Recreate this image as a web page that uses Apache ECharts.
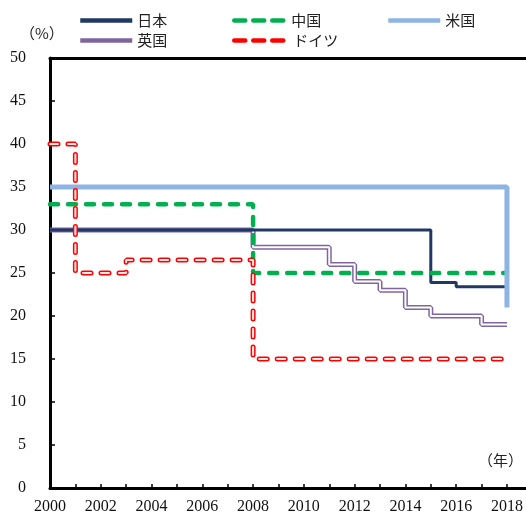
<!DOCTYPE html>
<html>
<head>
<meta charset="utf-8">
<script src="https://cdn.jsdelivr.net/npm/echarts@6/dist/echarts.min.js"></script>
<style>
  html, body { margin: 0; padding: 0; background: #fff; }
  #chart { width: 526px; height: 515px; }
</style>
</head>
<body>
<div id="chart"></div>
<script>
// Corporate tax rates by country (%), drawn as step lines.
// Each rate holds from its year until the next listed year.
const japanYears   = [2000, 2015, 2016, 2018];
const japanRates   = [30, 23.9, 23.4, 23.4];
const chinaYears   = [2000, 2008, 2018];
const chinaRates   = [33, 25, 25];
const usYears      = [2000, 2018];
const usRates      = [35, 21];
const ukYears      = [2000, 2008, 2011, 2012, 2013, 2014, 2015, 2017, 2018];
const ukRates      = [30, 28, 26, 24, 23, 21, 20, 19, 19];
const germanyYears = [2000, 2001, 2003, 2008, 2018];
const germanyRates = [40, 25, 26.5, 15, 15];

const yearTicks = { min: 2000, max: 2018.75, step: 1 };
const rateTicks = { min: 0, max: 50, step: 5 };

const colors = {
  japan: '#1F3864', china: '#00B050', us: '#8EB4E3', uk: '#8064A2', germany: '#FF0000'
};

const pairs = (xs, ys) => xs.map((x, i) => [x, ys[i]]);

const chart = echarts.init(document.getElementById('chart'), null, { renderer: 'canvas' });

const tickFont = { fontFamily: 'Liberation Serif', fontSize: 16, color: '#111' };
const legendFont = { fontFamily: 'Noto Sans CJK JP', fontSize: 15, color: '#222' };

function legendAt(name, left, top, width, color, dash) {
  return {
    data: [name], left: left, top: top, padding: 0,
    itemWidth: width, itemHeight: 14, textStyle: legendFont,
    selectedMode: false,
    itemStyle: { opacity: 0 },
    lineStyle: { color: color, width: 4.5, type: dash || 'solid', cap: dash ? 'round' : 'butt' }
  };
}

const base = { type: 'line', step: 'end', showSymbol: false, symbol: 'none', animation: false };

chart.setOption({
  animation: false,
  grid: { left: 50, top: 58, right: 0, bottom: 27 },
  legend: [
    legendAt('日本', 78, 13, 52, colors.japan),
    legendAt('中国', 232, 13, 52, colors.china, [11, 8]),
    legendAt('米国', 386, 13, 52, colors.us),
    legendAt('英国', 78, 33, 52, colors.uk),
    legendAt('ドイツ', 232, 33, 54, colors.germany, [11, 8])
  ],
  xAxis: [{
    type: 'value', min: yearTicks.min, max: yearTicks.max, interval: yearTicks.step,
    axisLine: { show: true, lineStyle: { color: '#000', width: 3 } },
    axisTick: { show: true, inside: true, length: 4, lineStyle: { color: '#000', width: 1.5 } },
    splitLine: { show: false },
    axisLabel: {
      ...tickFont, margin: 11, showMaxLabel: false,
      formatter: v => (v % 2 === 0 && Number.isInteger(v)) ? String(v) : ''
    }
  }, {
    type: 'value', position: 'top', min: yearTicks.min, max: yearTicks.max,
    axisLine: { show: true, lineStyle: { color: '#000', width: 3 } },
    axisTick: { show: false }, axisLabel: { show: false }, splitLine: { show: false }
  }],
  yAxis: {
    type: 'value', min: rateTicks.min, max: rateTicks.max, interval: rateTicks.step,
    axisLine: { show: true, lineStyle: { color: '#000', width: 3 } },
    axisTick: { show: true, inside: true, length: 5, lineStyle: { color: '#000', width: 1.5 } },
    splitLine: { show: false },
    axisLabel: { ...tickFont, margin: 24 }
  },
  graphic: [
    { type: 'text', left: 20, top: 26, style: { text: '（%）', font: '15px "Noto Sans CJK JP"', fill: '#222' } },
    { type: 'text', left: 478, top: 453, style: { text: '（年）', font: '15px "Noto Sans CJK JP"', fill: '#222' } }
  ],
  series: [
    // 英国: purple double line (outer stroke with a white core)
    { ...base, name: '英国', data: pairs(ukYears, ukRates), z: 2,
      lineStyle: { color: colors.uk, width: 5 } },
    { ...base, name: 'uk-core', data: pairs(ukYears, ukRates), z: 3,
      lineStyle: { color: '#ffffff', width: 2 } },
    { ...base, name: '日本', data: pairs(japanYears, japanRates), z: 4,
      lineStyle: { color: colors.japan, width: 3 } },
    { ...base, name: '中国', data: pairs(chinaYears, chinaRates), z: 5,
      lineStyle: { color: colors.china, width: 4.5, type: [8, 10], cap: 'round' } },
    { ...base, name: '米国', data: pairs(usYears, usRates), z: 6,
      lineStyle: { color: colors.us, width: 5 } },
    // ドイツ: red dashed double line
    { ...base, name: 'ドイツ', data: pairs(germanyYears, germanyRates), z: 7,
      lineStyle: { color: colors.germany, width: 5, type: [8, 10], cap: 'round' } },
    { ...base, name: 'de-core', data: pairs(germanyYears, germanyRates), z: 8,
      lineStyle: { color: '#ffeaea', width: 2, type: [8, 10], cap: 'round' } }
  ]
});
</script>
</body>
</html>
